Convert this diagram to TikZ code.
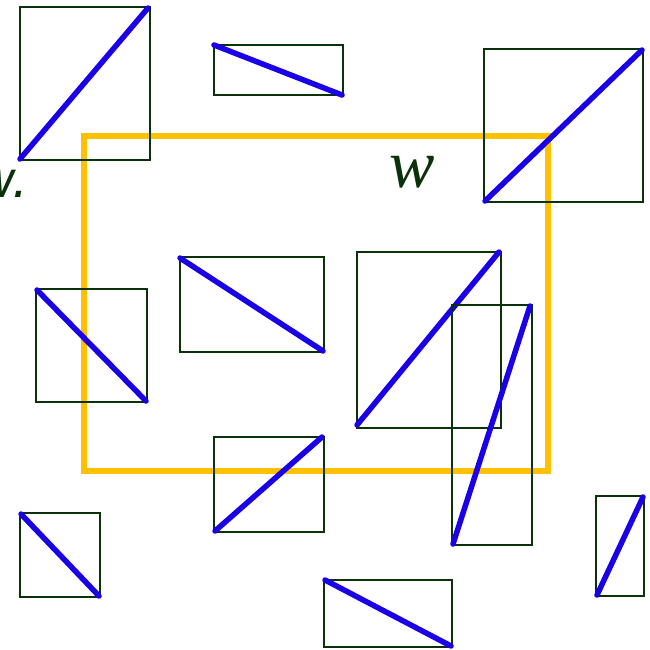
\documentclass[tikz,border=0pt]{standalone}
\usepackage{fontspec}
\setmainfont{DejaVu Sans}
\newfontfamily\labelserif{Liberation Serif}
\definecolor{boxgreen}{RGB}{10,50,10}
\definecolor{diagblue}{RGB}{25,0,230}
\definecolor{regionyellow}{RGB}{255,192,0}
\tikzset{
  box/.style={draw=boxgreen, line width=1.8pt},
  diag/.style={draw=diagblue, line width=5.5pt, line cap=round},
  region/.style={draw=regionyellow, line width=5.5pt},
}
\begin{document}
\begin{tikzpicture}[x=1pt,y=-1pt]
\useasboundingbox (0,0) rectangle (650,649);
% region W
\draw[region] (84,136) rectangle (548,471);
% boxes with their diagonals
\newcommand{\boxdiag}[6]{%
  \draw[box] (#1,#2) rectangle (#3,#4);
  \draw[diag] #5 -- #6;}
\boxdiag{20}{7}{150}{160}{(20,159)}{(148,8)}
\boxdiag{214}{45}{343}{95}{(214,45)}{(342,95)}
\boxdiag{484}{49}{643}{202}{(485,201)}{(642,50)}
\boxdiag{36}{289}{147}{402}{(37,290)}{(146,401)}
\boxdiag{180}{257}{324}{352}{(180,258)}{(323,351)}
\boxdiag{357}{252}{501}{428}{(357,425)}{(499,252)}
\boxdiag{452}{305}{532}{545}{(453,544)}{(530,306)}
\boxdiag{214}{437}{324}{532}{(215,531)}{(322,437)}
\boxdiag{20}{513}{100}{597}{(21,514)}{(99,596)}
\boxdiag{324}{580}{452}{647}{(325,580)}{(451,646)}
\boxdiag{596}{496}{644}{596}{(597,595)}{(643,497)}
% labels
\node[text=boxgreen, font=\labelserif\itshape\fontsize{68}{68}\selectfont, inner sep=0pt] (W) at (412,172) {w};
\node[text=boxgreen, font=\itshape\fontsize{50}{50}\selectfont, inner sep=0pt, anchor=base east] (wdot) at (29,197) {w.};
\end{tikzpicture}
\end{document}
